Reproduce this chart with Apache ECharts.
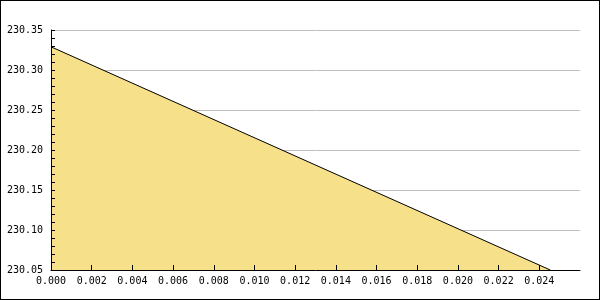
<!DOCTYPE html>
<html>
<head>
<meta charset="utf-8">
<script src="https://cdn.jsdelivr.net/npm/echarts@6/dist/echarts.min.js"></script>
<style>
html,body{margin:0;padding:0;background:#fff;}
#c{width:600px;height:300px;box-sizing:border-box;border:1px solid #000;}
</style>
</head>
<body>
<div id="c"></div>
<script>
var xValues = [0, 0.02454];
var yValues = [230.329, 230.05];
var xTickValues = [0, 0.002, 0.004, 0.006, 0.008, 0.010, 0.012, 0.014, 0.016, 0.018, 0.020, 0.022, 0.024];
var yTickLabels = ['230.05', '230.10', '230.15', '230.20', '230.25', '230.30', '230.35'];

var yMin = Number(yTickLabels[0]), yMax = Number(yTickLabels[yTickLabels.length - 1]);
var chart = echarts.init(document.getElementById('c'), null, {renderer: 'canvas'});
var font = {fontFamily: 'DejaVu Sans Mono', fontSize: 10, color: '#000'};
chart.setOption({
  animation: false,
  grid: {left: 50, top: 29, right: 19, bottom: 29},
  xAxis: {
    type: 'value', min: 0, max: 0.026, z: 10,
    axisLine: {lineStyle: {color: '#000', width: 1}},
    axisTick: {inside: true, length: 5, lineStyle: {color: '#000'}, customValues: xTickValues},
    axisLabel: Object.assign({margin: 6, customValues: xTickValues, formatter: function(v){return v.toFixed(3);}}, font),
    splitLine: {show: false}
  },
  yAxis: [{
    type: 'value', min: yMin, max: yMax, interval: 0.05, z: 10,
    axisLine: {show: true, lineStyle: {color: '#000', width: 1}},
    axisTick: {show: true, inside: true, length: 4, lineStyle: {color: '#000'}},
    minorTick: {show: true, splitNumber: 5, length: 4, lineStyle: {color: '#000'}},
    axisLabel: Object.assign({margin: 8, formatter: function(v){return v.toFixed(2);}}, font),
    splitLine: {show: false}
  }, {
    type: 'value', min: yMin, max: yMax, interval: 0.05, z: 0, position: 'left',
    axisLine: {show: false}, axisTick: {show: false}, axisLabel: {show: false},
    splitLine: {show: true, lineStyle: {color: '#c0c0c0', width: 1}}
  }],
  series: [{
    type: 'line', yAxisIndex: 0, z: 2,
    data: xValues.map(function(x, i){return [x, yValues[i]];}),
    showSymbol: false,
    lineStyle: {color: '#000', width: 1},
    areaStyle: {color: '#f6e08a', opacity: 1, origin: 'start'}
  }]
});
</script>
</body>
</html>
